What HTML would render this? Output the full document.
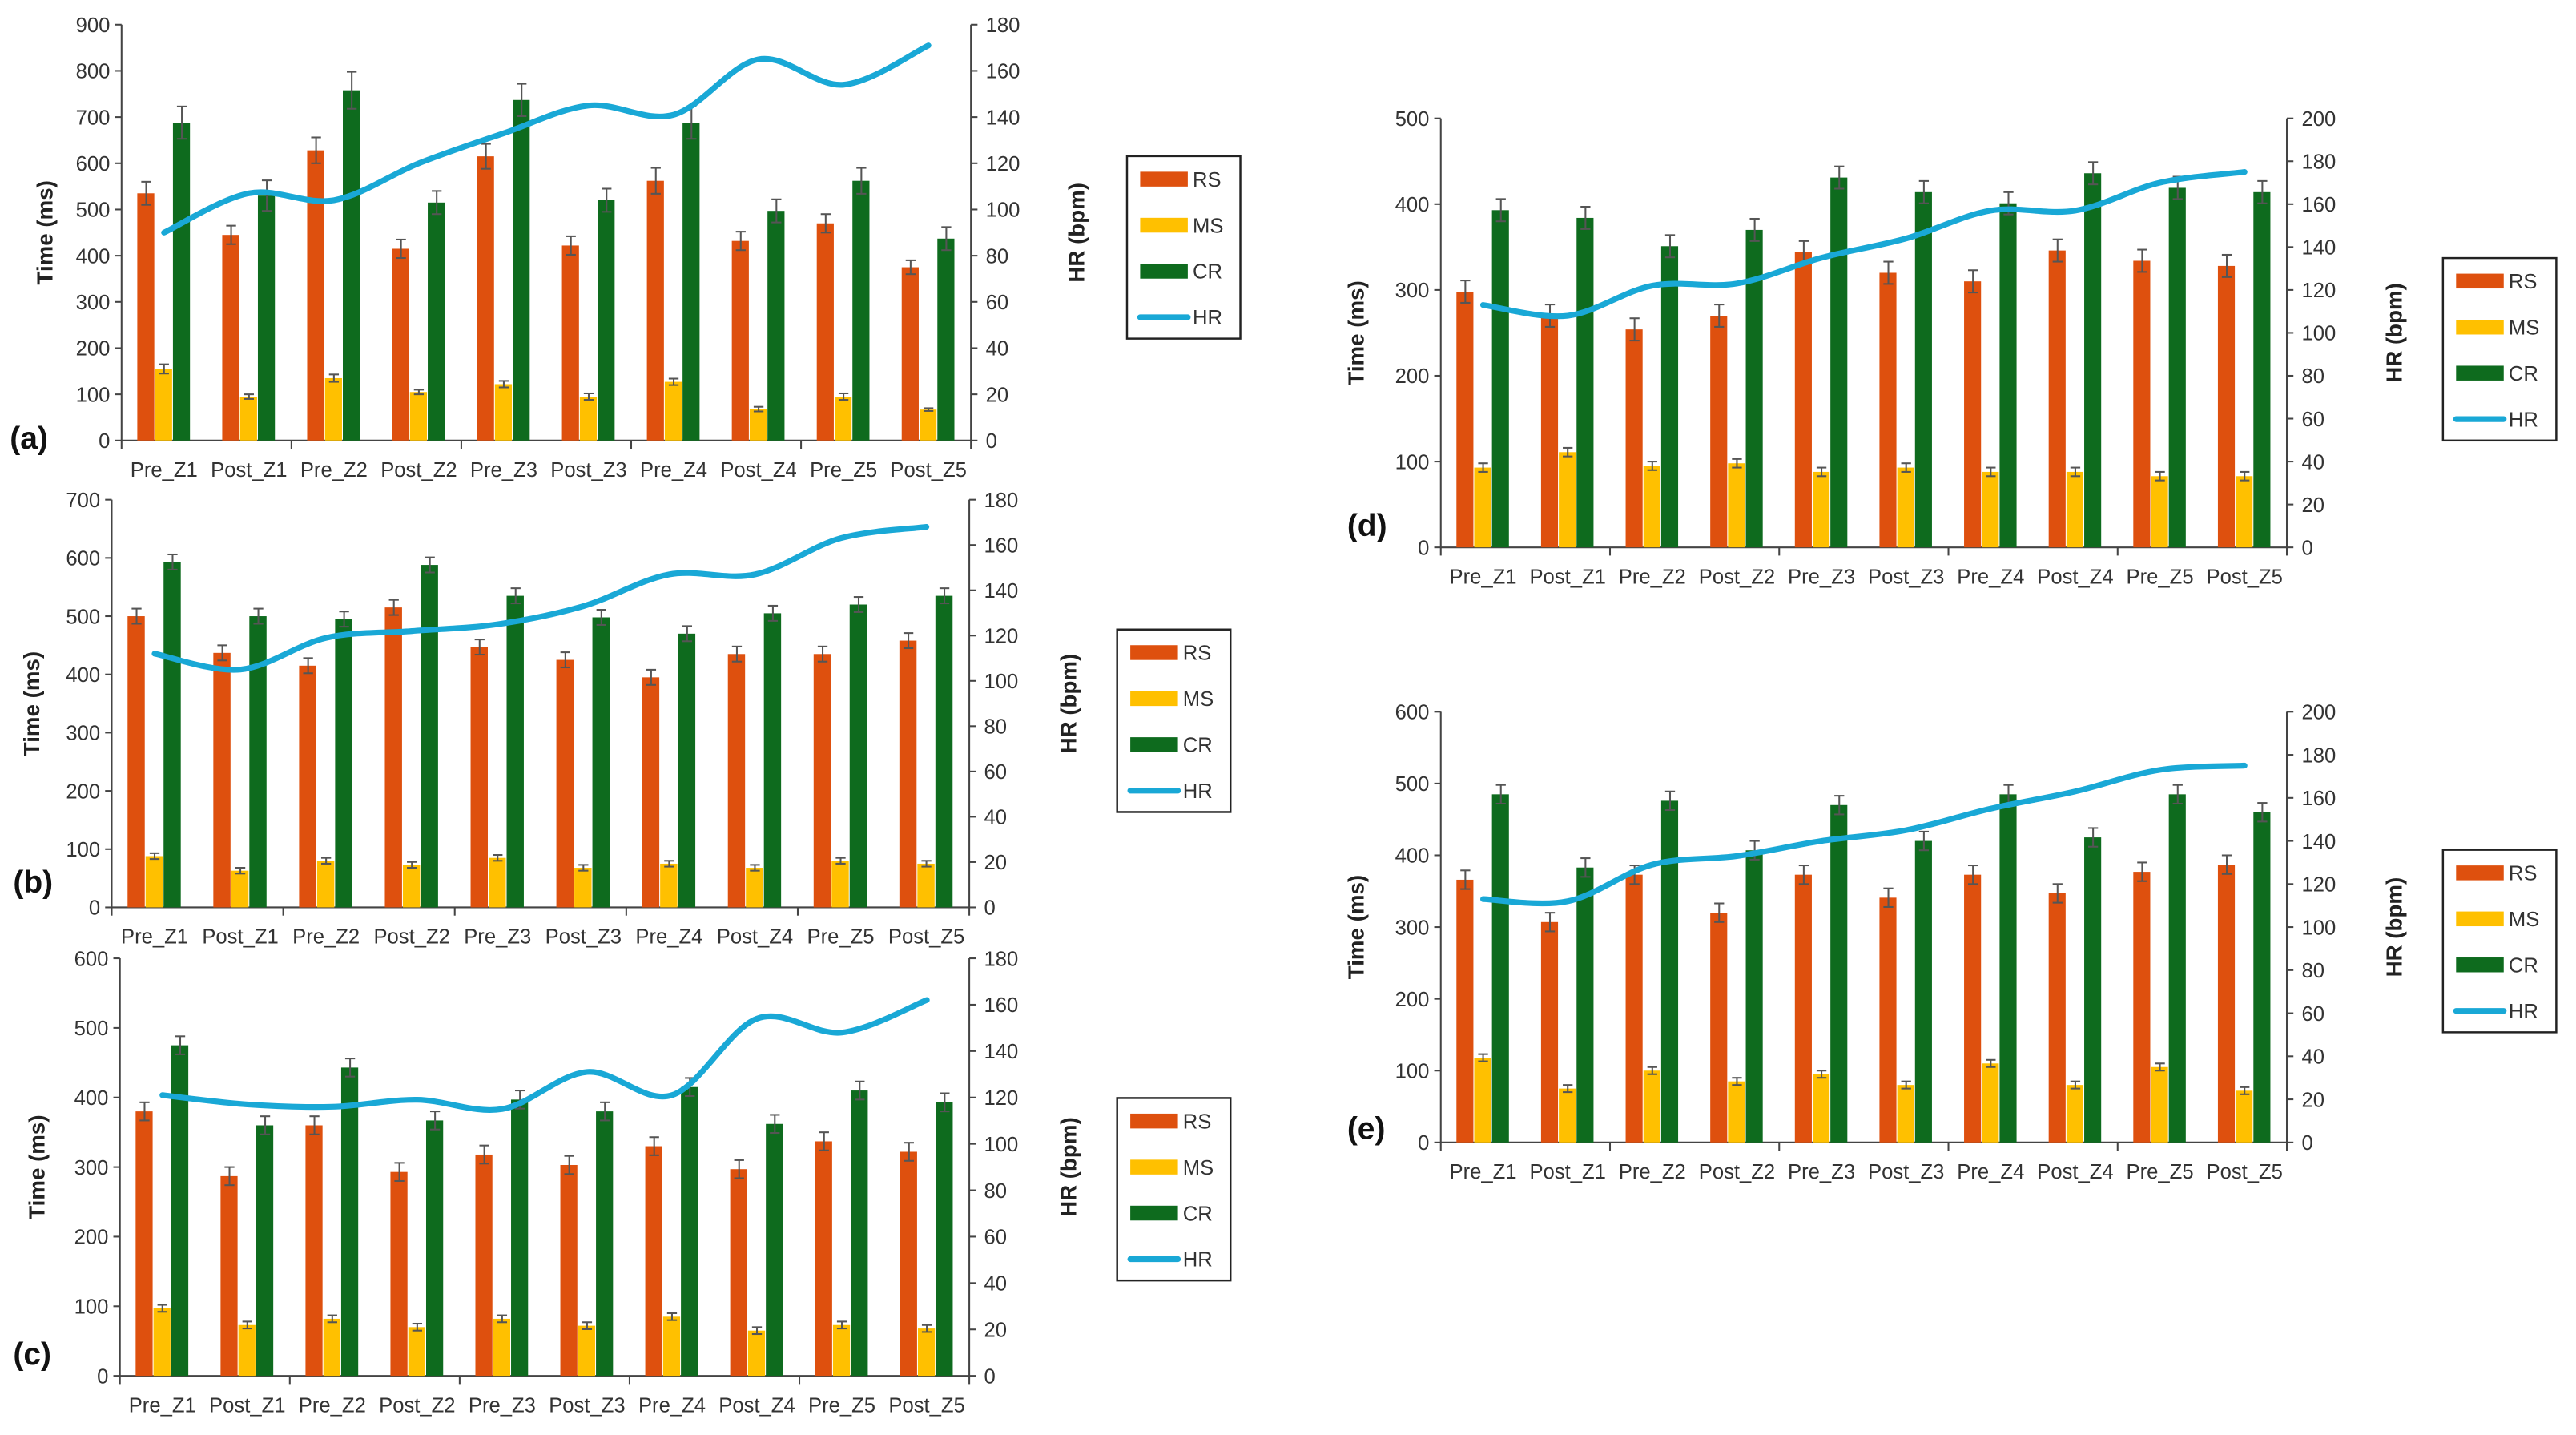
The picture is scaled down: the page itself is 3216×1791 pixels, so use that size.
<!DOCTYPE html>
<html><head><meta charset="utf-8"><style>
html,body{margin:0;padding:0;background:#fff;}
svg{display:block;font-family:"Liberation Sans",sans-serif;}
</style></head><body>
<svg id="chart" width="3216" height="1791" viewBox="0 0 1568 873" preserveAspectRatio="none" xmlns="http://www.w3.org/2000/svg"></svg>
<script>
const categories = ["Pre_Z1","Post_Z1","Pre_Z2","Post_Z2","Pre_Z3","Post_Z3","Pre_Z4","Post_Z4","Pre_Z5","Post_Z5"];
// panel a
const rsA = [535,445,628,415,615,422,562,432,470,375];
const msA = [155,95,135,105,122,95,127,68,95,67];
const crA = [688,530,758,515,737,520,688,497,562,437];
const hrA = [90,107,104,120,133,145,141,165,154,171];
const rsErrA = [25,20,28,20,27,20,28,20,20,15];
const msErrA = [10,5,8,5,7,7,7,5,7,3];
const crErrA = [35,33,40,25,35,25,35,25,28,25];
// panel b
const rsB = [500,437,415,515,447,425,395,435,435,458];
const msB = [88,63,80,73,85,68,75,68,80,75];
const crB = [593,500,495,588,535,498,470,505,520,535];
const hrB = [112,105,119,122,125,133,147,147,163,168];
// panel c
const rsC = [380,287,360,293,318,303,330,297,337,322];
const msC = [97,73,82,70,82,72,85,65,73,68];
const crC = [475,360,443,367,397,380,415,362,410,393];
const hrC = [121,117,116,119,115,131,121,154,148,162];
// panel d
const rsD = [298,270,254,270,344,320,310,346,334,328];
const msD = [93,111,95,98,88,93,88,88,83,83];
const crD = [393,384,351,370,431,414,401,436,419,414];
const hrD = [113,108,122,123,135,144,157,157,170,175];
// panel e
const rsE = [366,307,373,320,373,341,373,347,377,387];
const msE = [118,75,100,85,95,80,110,80,105,72];
const crE = [485,383,476,407,470,420,485,425,485,460];
const hrE = [113,112,129,133,140,145,155,163,173,175];
const leftTicksA = [0,100,200,300,400,500,600,700,800,900];
const leftTicksB = [0,100,200,300,400,500,600,700];
const leftTicksC = [0,100,200,300,400,500,600];
const leftTicksD = [0,100,200,300,400,500];
const leftTicksE = [0,100,200,300,400,500,600];
const rightTicks180 = [0,20,40,60,80,100,120,140,160,180];
const rightTicks200 = [0,20,40,60,80,100,120,140,160,180,200];

const NS="http://www.w3.org/2000/svg";
const svg=document.getElementById('chart');
const C={rs:"#DE500E",ms:"#FFC000",cr:"#0E6B1E",hr:"#19A8D6",ax:"#444"};
function el(tag,attrs,parent){const e=document.createElementNS(NS,tag);for(const k in attrs)e.setAttribute(k,attrs[k]);(parent||svg).appendChild(e);return e;}

function panel(p){
  const g=el('g',{});
  
  
  const lmax=p.lt[p.lt.length-1], rmax=p.rt[p.rt.length-1];
  const y=v=>p.y0-(v/lmax)*(p.y0-p.y1);
  const yr=v=>p.y0-(v/rmax)*(p.y0-p.y1);
  const bw=(p.x1-p.x0)/categories.length;
  const xc=i=>p.x0+bw*(i+0.5);
  const w=bw*0.21;
  // axes
  const la=el('line',{x1:p.x0,y1:p.y1,x2:p.x0,y2:p.y0,stroke:C.ax,'stroke-width':1},g);
  
  const ra=el('line',{x1:p.x1,y1:p.y1,x2:p.x1,y2:p.y0,stroke:C.ax,'stroke-width':1},g);
  
  const xa=el('line',{x1:p.x0,y1:p.y0,x2:p.x1,y2:p.y0,stroke:C.ax,'stroke-width':1},g);
  
  for(let i=0;i<=categories.length;i+=2){const xx=p.x0+bw*i;el('line',{x1:xx,y1:p.y0,x2:xx,y2:p.y0+5,stroke:C.ax},g);}
  p.lt.forEach(t=>{
    el('line',{x1:p.x0-4,y1:y(t),x2:p.x0,y2:y(t),stroke:C.ax},g);
    const tx=el('text',{x:p.x0-7,y:y(t)+4.5,'text-anchor':'end','font-size':12.5,fill:'#333'},g);
    tx.textContent=t;
  });
  p.rt.forEach(t=>{
    el('line',{x1:p.x1,y1:yr(t),x2:p.x1+4,y2:yr(t),stroke:C.ax},g);
    const tx=el('text',{x:p.x1+9,y:yr(t)+4.5,'font-size':12.5,fill:'#333'},g);
    tx.textContent=t;
  });
  categories.forEach((c,i)=>{
    const tx=el('text',{x:xc(i),y:p.y0+22,'text-anchor':'middle','font-size':12.5,fill:'#333'},g);
    tx.textContent=c;
  });
  const series=[[p.rs,C.rs,-1,'rs',p.rsE],[p.ms,C.ms,0,'ms',p.msE],[p.cr,C.cr,1,'cr',p.crE]];
  series.forEach(([vals,col,off,nm,errs])=>{
    vals.forEach((v,i)=>{
      const bx=xc(i)+off*w-w/2;
      const b=el('rect',{x:bx,y:y(v),width:w-0.5,height:p.y0-y(v),fill:col},g);
      
      const e=errs?errs[i]:(nm==='ms'?5:(nm==='rs'?13:13));
      const cx=bx+w/2, ty=y(v+e), by=y(v-e);
      el('line',{x1:cx,y1:ty,x2:cx,y2:by,stroke:'#555','stroke-width':1},g);
      el('line',{x1:cx-3,y1:ty,x2:cx+3,y2:ty,stroke:'#555','stroke-width':1},g);
      el('line',{x1:cx-3,y1:by,x2:cx+3,y2:by,stroke:'#555','stroke-width':1},g);
    });
  });
  // smooth HR line (Catmull-Rom)
  const pts=p.hr.map((v,i)=>[xc(i),yr(v)]);
  let d='M'+pts[0][0]+','+pts[0][1];
  for(let i=0;i<pts.length-1;i++){
    const p0=pts[Math.max(0,i-1)],p1=pts[i],p2=pts[i+1],p3=pts[Math.min(pts.length-1,i+2)];
    const t=1/6;
    d+=' C'+(p1[0]+(p2[0]-p0[0])*t)+','+(p1[1]+(p2[1]-p0[1])*t)+' '+(p2[0]-(p3[0]-p1[0])*t)+','+(p2[1]-(p3[1]-p1[1])*t)+' '+p2[0]+','+p2[1];
  }
  const ln=el('path',{d:d,fill:'none',stroke:C.hr,'stroke-width':3.5,'stroke-linecap':'round'},g);
  
  // axis titles
  const lt=el('text',{x:p.ltx,y:(p.y0+p.y1)/2,'text-anchor':'middle','font-size':13.5,'font-weight':'bold',fill:'#222',transform:'rotate(-90 '+p.ltx+' '+(p.y0+p.y1)/2+')'},g);
  lt.textContent='Time (ms)';
  const rt=el('text',{x:p.rtx,y:(p.y0+p.y1)/2,'text-anchor':'middle','font-size':13.5,'font-weight':'bold',fill:'#222',transform:'rotate(-90 '+p.rtx+' '+(p.y0+p.y1)/2+')'},g);
  rt.textContent='HR (bpm)';
  const pl=el('text',{x:p.plx,y:p.ply,'font-size':19,'font-weight':'bold',fill:'#111'},g);
  pl.textContent='('+p.id+')';
  // legend
  const lg=el('g',{},g);
  
  el('rect',{x:p.lx,y:p.ly,width:69,height:111,fill:'#fff',stroke:'#222','stroke-width':1.2},lg);
  [['RS',C.rs],['MS',C.ms],['CR',C.cr],['HR',C.hr]].forEach(([n,col],k)=>{
    const yy=p.ly+14+k*28;
    if(n==='HR') el('line',{x1:p.lx+8,y1:yy,x2:p.lx+37,y2:yy,stroke:col,'stroke-width':3.5,'stroke-linecap':'round'},lg);
    else el('rect',{x:p.lx+8,y:yy-4.5,width:29,height:9,fill:col},lg);
    const tx=el('text',{x:p.lx+40,y:yy+4.5,'font-size':12.5,fill:'#333'},lg);
    tx.textContent=n;
  });
}
panel({id:'a',x0:74,x1:591,y0:268,y1:15,lt:leftTicksA,rt:rightTicks180,rs:rsA,ms:msA,cr:crA,hr:hrA,rsE:rsErrA,msE:msErrA,crE:crErrA,ltx:32,rtx:660,plx:6,ply:273,lx:686,ly:95});
panel({id:'b',x0:68,x1:590,y0:552,y1:304,lt:leftTicksB,rt:rightTicks180,rs:rsB,ms:msB,cr:crB,hr:hrB,ltx:24,rtx:655,plx:8,ply:543,lx:680,ly:383});
panel({id:'c',x0:73,x1:590,y0:837,y1:583,lt:leftTicksC,rt:rightTicks180,rs:rsC,ms:msC,cr:crC,hr:hrC,ltx:27,rtx:655,plx:8,ply:830,lx:680,ly:668});
panel({id:'d',x0:877,x1:1392,y0:333,y1:72,lt:leftTicksD,rt:rightTicks200,rs:rsD,ms:msD,cr:crD,hr:hrD,ltx:830,rtx:1462,plx:820,ply:326,lx:1487,ly:157});
panel({id:'e',x0:877,x1:1392,y0:695,y1:433,lt:leftTicksE,rt:rightTicks200,rs:rsE,ms:msE,cr:crE,hr:hrE,ltx:830,rtx:1462,plx:820,ply:693,lx:1487,ly:517});
</script>
</body></html>
